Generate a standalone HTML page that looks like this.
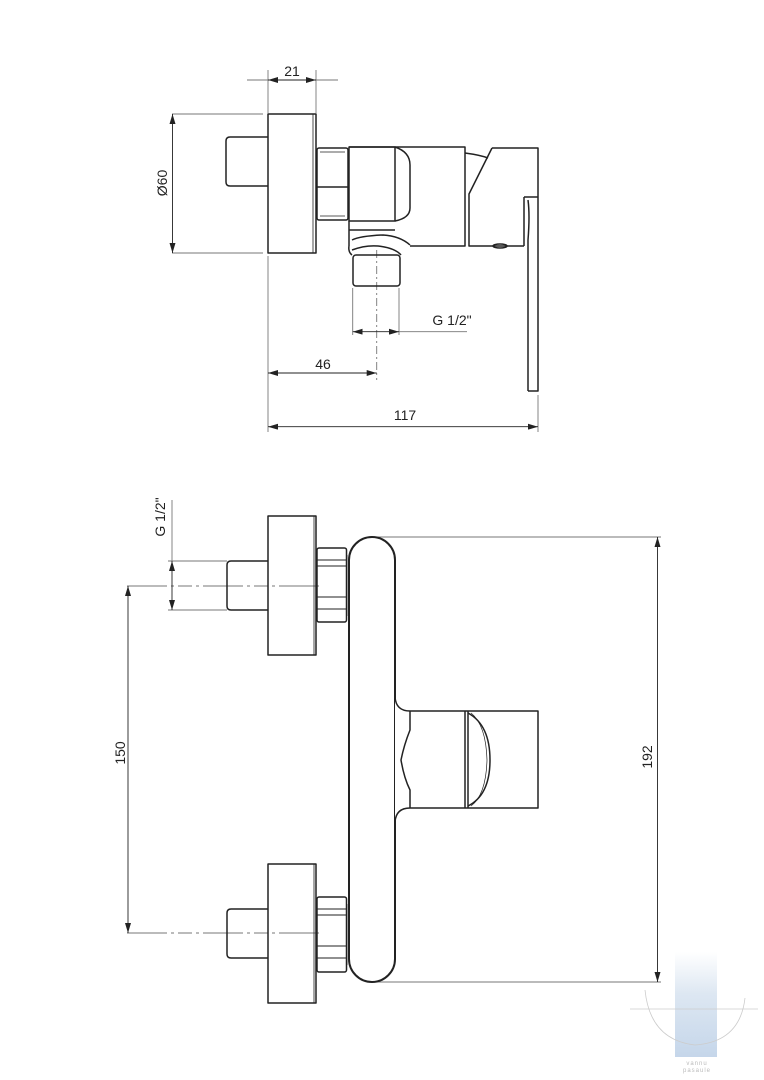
<!DOCTYPE html>
<html><head><meta charset="utf-8"><style>
html,body{margin:0;padding:0;background:#fff;}
svg{display:block;}
text{font-family:"Liberation Sans Narrow","Liberation Sans",sans-serif;font-size:14px;fill:#222;}
</style></head><body>
<svg width="764" height="1080" viewBox="0 0 764 1080" xmlns="http://www.w3.org/2000/svg">
<defs>
<marker id="a" viewBox="0 0 10 6" refX="10" refY="3" markerWidth="10" markerHeight="6" orient="auto-start-reverse" markerUnits="userSpaceOnUse"><path d="M0,0 L10,3 L0,6 z" fill="#222"/></marker>
<linearGradient id="wm" x1="0" y1="0" x2="0" y2="1"><stop offset="0" stop-color="#fff"/><stop offset="0.4" stop-color="#dde7f2"/><stop offset="1" stop-color="#c5d6ea"/></linearGradient>
</defs>

<!-- TOP VIEW -->
<g fill="none" stroke="#777" stroke-width="0.9">
  <line x1="268" y1="70" x2="268" y2="113"/><line x1="316" y1="70" x2="316" y2="113"/>
  <line x1="247" y1="80" x2="338" y2="80"/>
  <line x1="172" y1="114" x2="263" y2="114"/><line x1="172" y1="253" x2="263" y2="253"/>
  <line x1="268" y1="256" x2="268" y2="432"/>
  <line x1="538" y1="395" x2="538" y2="432"/>
  <line x1="352.7" y1="288" x2="352.7" y2="335"/><line x1="399" y1="288" x2="399" y2="335"/>
  <line x1="399" y1="331.7" x2="467" y2="331.7"/>
  <line x1="376.7" y1="250" x2="376.7" y2="380" stroke-dasharray="8,3,2,3"/>
</g>
<g stroke="#222" stroke-width="0.9" fill="none">
  <line x1="268" y1="80" x2="316" y2="80" marker-start="url(#a)" marker-end="url(#a)"/>
  <line x1="172.5" y1="114" x2="172.5" y2="253" marker-start="url(#a)" marker-end="url(#a)"/>
  <line x1="352.7" y1="331.7" x2="399" y2="331.7" marker-start="url(#a)" marker-end="url(#a)"/>
  <line x1="268" y1="373" x2="376.7" y2="373" marker-start="url(#a)" marker-end="url(#a)"/>
  <line x1="268" y1="426.7" x2="538" y2="426.7" marker-start="url(#a)" marker-end="url(#a)"/>
</g>
<text x="292" y="76" text-anchor="middle">21</text>
<text transform="translate(167,183) rotate(-90)" text-anchor="middle">Ø60</text>
<text x="452" y="325" text-anchor="middle">G 1/2"</text>
<text x="323" y="369" text-anchor="middle">46</text>
<text x="405" y="420" text-anchor="middle">117</text>

<g fill="none" stroke="#222" stroke-width="1.5" stroke-linejoin="round">
  <rect x="268" y="114" width="48" height="139"/>
  <line x1="313" y1="114" x2="313" y2="253" stroke-width="0.8"/>
  <path d="M268,137 H230 Q226,137 226,141 V182 Q226,186 230,186 H268"/>
  <rect x="317" y="148" width="31" height="72" rx="2"/>
  <line x1="317" y1="187" x2="348" y2="187"/>
  <line x1="320" y1="152" x2="345" y2="152" stroke-width="0.7"/>
  <line x1="320" y1="216" x2="345" y2="216" stroke-width="0.7"/>
  <path d="M349,147 H465 V246 H410"/>
  <rect x="349" y="147" width="46" height="74"/>
  <path d="M395,147 Q410,152 410,165 V208 Q410,218 395,221"/>
  <path d="M349,221 V246 M349,230 H395"/>
  <path d="M352,240 Q360,236 383,235 Q400,236 410,245"/>
  <path d="M352,250 Q365,245 378,246 Q395,248 401,255"/>
  <path d="M349,246 Q348,252 352,255"/>
  <rect x="353" y="255" width="47" height="31" rx="3"/>
  <path d="M492,148 H538 V391 H528"/>
  <path d="M492,148 L469,194 V246 H524"/>
  <path d="M465,153 Q480,155 488,158"/>
  <path d="M524,197 H538 M524,197 V246"/>
  <path d="M528,200 Q530,215 528,240 V391"/>
  <ellipse cx="500" cy="246" rx="7" ry="2"/>
</g>

<!-- BOTTOM VIEW -->
<g fill="none" stroke="#777" stroke-width="0.9">
  <line x1="168" y1="561" x2="227" y2="561"/><line x1="168" y1="610" x2="227" y2="610"/>
  <line x1="172" y1="500" x2="172" y2="561"/>
  <line x1="127" y1="586" x2="322" y2="586" stroke-dasharray="40,4,3,4,14,4,3,4"/>
  <line x1="127" y1="933" x2="322" y2="933" stroke-dasharray="40,4,3,4,14,4,3,4"/>
  <line x1="372" y1="537" x2="661" y2="537"/>
  <line x1="372" y1="982" x2="661" y2="982"/>
</g>
<g stroke="#222" stroke-width="0.9" fill="none">
  <line x1="172" y1="561" x2="172" y2="610" marker-start="url(#a)" marker-end="url(#a)"/>
  <line x1="128" y1="586" x2="128" y2="933" marker-start="url(#a)" marker-end="url(#a)"/>
  <line x1="657.5" y1="537" x2="657.5" y2="982" marker-start="url(#a)" marker-end="url(#a)"/>
</g>
<text transform="translate(165,517) rotate(-90)" text-anchor="middle">G 1/2"</text>
<text transform="translate(125,753) rotate(-90)" text-anchor="middle">150</text>
<text transform="translate(652,757) rotate(-90)" text-anchor="middle">192</text>

<g fill="none" stroke="#222" stroke-width="1.5" stroke-linejoin="round">
  <rect x="268" y="516" width="48" height="139"/>
  <line x1="314" y1="516" x2="314" y2="655" stroke-width="0.8"/>
  <path d="M268,561 H231 Q227,561 227,565 V606 Q227,610 231,610 H268"/>
  <rect x="317" y="548" width="29.5" height="74" rx="2"/>
  <path d="M317,560 H346 M317,566 H346 M317,597 H346 M317,609 H346" stroke-width="0.9"/>
  <line x1="347" y1="555" x2="347" y2="616" stroke-width="0.8"/>
  <rect x="268" y="864" width="48" height="139"/>
  <line x1="314" y1="864" x2="314" y2="1003" stroke-width="0.8"/>
  <path d="M268,909 H231 Q227,909 227,913 V954 Q227,958 231,958 H268"/>
  <rect x="317" y="897" width="29.5" height="75" rx="2"/>
  <path d="M317,909 H346 M317,915 H346 M317,946 H346 M317,958 H346" stroke-width="0.9"/>
  <line x1="347" y1="904" x2="347" y2="965" stroke-width="0.8"/>
  <rect x="349" y="537" width="46" height="445" rx="23" stroke-width="2"/>
  <path d="M395,697 Q396,711 410,711 H538 V808 H410 Q396,808 395,822" fill="#fff"/>
  <path d="M410,711 V730 Q404,745 401,760 Q404,778 410,790 V808"/>
  <line x1="465" y1="711" x2="465" y2="808"/>
  <line x1="468" y1="711" x2="468" y2="808"/>
  <path d="M468,713 Q490,725 490,760 Q490,795 468,806"/>
  <path d="M471,713 Q486,725 487,760 Q486,795 471,806" stroke-width="0.7"/>
</g>

<rect x="675" y="952" width="42" height="105" fill="url(#wm)"/>
<g fill="none" stroke="#ccc" stroke-width="0.8">
  <line x1="630" y1="1009" x2="758" y2="1009"/>
  <path d="M645,990 Q650,1040 695,1045 Q740,1042 745,998"/>
</g>
<text x="697" y="1065" text-anchor="middle" style="font-size:6px;fill:#bbb;letter-spacing:1px">vannu</text>
<text x="697" y="1072" text-anchor="middle" style="font-size:6px;fill:#bbb;letter-spacing:1px">pasaule</text>
</svg>
</body></html>
